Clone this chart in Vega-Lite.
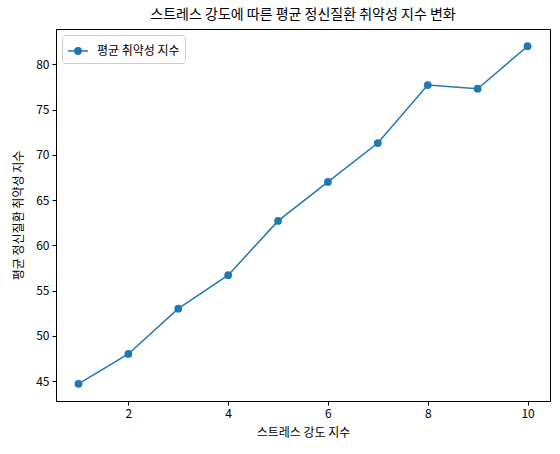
{
  "$schema": "https://vega.github.io/schema/vega-lite/v6.json",
  "width": 494,
  "height": 372,
  "autosize": {"type": "none"},
  "padding": {"left": 56, "top": 29, "right": 10, "bottom": 53},
  "background": "white",
  "config": {
    "font": "Noto Sans CJK KR",
    "view": {"stroke": "black", "strokeWidth": 1},
    "axis": {"grid": false, "domainColor": "black", "tickColor": "black", "labelColor": "black", "titleColor": "black", "labelFontSize": 12, "titleFontSize": 12, "titleFontWeight": "normal", "tickSize": 4, "labelPadding": 3, "labelFont": "Noto Sans CJK KR", "titleFont": "Noto Sans CJK KR"}
  },
  "title": {"text": "스트레스 강도에 따른 평균 정신질환 취약성 지수 변화", "fontSize": 14, "fontWeight": "normal", "font": "Noto Sans CJK KR", "offset": 7, "color": "black"},
  "data": {"values": [
    {"x": 1, "y": 44.7, "s": "평균 취약성 지수"},
    {"x": 2, "y": 48.0, "s": "평균 취약성 지수"},
    {"x": 3, "y": 53.0, "s": "평균 취약성 지수"},
    {"x": 4, "y": 56.7, "s": "평균 취약성 지수"},
    {"x": 5, "y": 62.7, "s": "평균 취약성 지수"},
    {"x": 6, "y": 67.0, "s": "평균 취약성 지수"},
    {"x": 7, "y": 71.3, "s": "평균 취약성 지수"},
    {"x": 8, "y": 77.7, "s": "평균 취약성 지수"},
    {"x": 9, "y": 77.3, "s": "평균 취약성 지수"},
    {"x": 10, "y": 82.0, "s": "평균 취약성 지수"}
  ]},
  "mark": {"type": "line", "point": {"size": 60, "filled": true, "opacity": 1}, "strokeWidth": 1.5},
  "encoding": {
    "x": {"field": "x", "type": "quantitative", "scale": {"domain": [0.55, 10.45], "nice": false, "zero": false}, "axis": {"values": [2, 4, 6, 8, 10], "title": "스트레스 강도 지수", "titlePadding": 8}},
    "y": {"field": "y", "type": "quantitative", "scale": {"domain": [42.8, 83.9], "nice": false, "zero": false}, "axis": {"values": [45, 50, 55, 60, 65, 70, 75, 80], "title": "평균 정신질환 취약성 지수", "titlePadding": 10}},
    "color": {"field": "s", "type": "nominal", "scale": {"range": ["#1f77b4"]}, "legend": {"title": null, "orient": "top-left", "offset": 6, "strokeColor": "#cccccc", "fillColor": "white", "padding": 5, "cornerRadius": 3, "labelFontSize": 12, "labelFont": "Noto Sans CJK KR", "labelOffset": 8, "symbolType": "M-1,0H1M-0.32,0A0.32,0.32 0 1,0 0.32,0A0.32,0.32 0 1,0 -0.32,0Z", "symbolSize": 400, "symbolStrokeWidth": 1.5}}
  }
}
